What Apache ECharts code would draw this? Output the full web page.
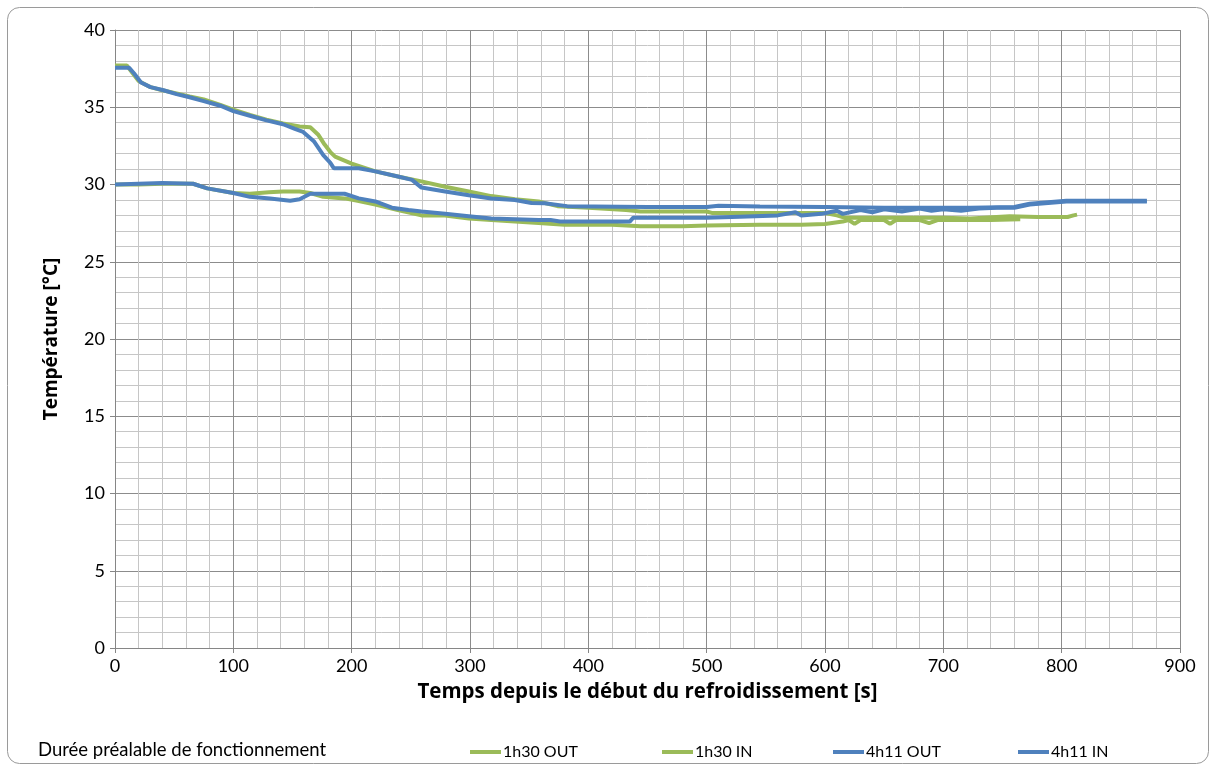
<!DOCTYPE html>
<html><head><meta charset="utf-8">
<script src="https://cdn.jsdelivr.net/npm/echarts@6/dist/echarts.min.js"></script>
<style>html,body{margin:0;padding:0;background:#fff}#c{width:1212px;height:767px}</style>
</head><body><div id="c"></div>
<script>
// ---- data (time [s], temperature [°C]) ----
const xTicks = [0,100,200,300,400,500,600,700,800,900];
const yTicks = [0,5,10,15,20,25,30,35,40];
const seriesNames = ['1h30 OUT','1h30 IN','4h11 OUT','4h11 IN'];
const legendTitle = 'Durée préalable de fonctionnement';

const t_1h30_out = [0,10,14,20,30,40,52,63,75,89,100,114,128,142,156,165,172,177,182,186,200,220,240,259,279,299,318,338,358,374,400,432,444,500,505,545,600,610,617,650,700,723,756,780,805,810,813];
const v_1h30_out = [37.7,37.7,37.3,36.7,36.3,36.1,35.9,35.7,35.5,35.15,34.85,34.5,34.2,33.95,33.75,33.7,33.2,32.6,32.1,31.8,31.35,30.85,30.5,30.2,29.85,29.55,29.25,29.05,28.9,28.6,28.5,28.35,28.25,28.25,28.15,28.15,28.15,28.0,27.85,27.85,27.85,27.8,27.95,27.9,27.9,28.0,28.05];

const t_1h30_in = [0,20,40,66,78,100,114,130,142,156,165,176,194,205,220,239,259,279,299,318,338,358,380,420,444,480,500,545,580,600,615,620,625,630,650,655,660,680,688,695,740,765];
const v_1h30_in = [30.0,30.0,30.05,30.05,29.75,29.45,29.4,29.5,29.55,29.55,29.45,29.2,29.1,28.95,28.7,28.35,28.0,28.0,27.8,27.7,27.6,27.5,27.4,27.4,27.3,27.3,27.35,27.4,27.4,27.45,27.6,27.7,27.45,27.7,27.7,27.45,27.7,27.7,27.5,27.7,27.7,27.75];

const t_4h11_out = [0,12,16,22,30,41,52,63,75,89,100,114,128,142,152,159,168,176,182,185,192,206,220,240,251,259,279,299,318,338,352,363,382,450,500,510,545,600,650,700,723,760,773,804,850,872];
const v_4h11_out = [37.55,37.55,37.2,36.6,36.3,36.1,35.85,35.65,35.4,35.1,34.75,34.45,34.15,33.9,33.6,33.4,32.8,31.9,31.4,31.05,31.05,31.05,30.85,30.5,30.3,29.8,29.55,29.3,29.1,29.0,28.8,28.78,28.6,28.55,28.55,28.62,28.58,28.55,28.5,28.5,28.5,28.55,28.75,28.95,28.95,28.95];

const t_4h11_in = [0,20,40,66,78,100,114,131,148,156,165,179,194,206,220,234,248,259,279,299,318,338,358,368,376,435,438,500,528,560,575,580,597,610,615,630,640,650,665,680,690,700,715,730,745,760,773,804,850,872];
const v_4h11_in = [30.0,30.05,30.1,30.05,29.75,29.45,29.2,29.1,28.95,29.05,29.4,29.4,29.4,29.1,28.9,28.5,28.35,28.25,28.1,27.95,27.8,27.75,27.7,27.7,27.6,27.6,27.85,27.85,27.92,28.0,28.2,28.0,28.1,28.3,28.1,28.35,28.2,28.4,28.25,28.45,28.3,28.4,28.3,28.45,28.5,28.5,28.7,28.9,28.9,28.9];

const GREEN = '#9bbb59', BLUE = '#4f81bd';
const FONT = 'Lato';
const TITLE_FONT = 'Open Sans';
const zip = (t, v) => t.map((x, i) => [x, v[i]]);

const chart = echarts.init(document.getElementById('c'), null, {renderer: 'canvas'});
const mkSeries = (name, t, v, color) => ({
  name, type: 'line', data: zip(t, v), showSymbol: false, symbol: 'none',
  lineStyle: {color, width: 4}, itemStyle: {color}, animation: false
});
const legendLefts = [465, 657, 828, 1013];

chart.setOption({
  backgroundColor: '#fff',
  animation: false,
  textStyle: {fontFamily: FONT},
  grid: {left: 115, right: 32, top: 30, bottom: 119},
  graphic: [{
    type: 'rect', left: 5, top: 5, silent: true,
    shape: {width: 1201, height: 756, r: 12},
    style: {fill: 'none', stroke: '#9a9a9a', lineWidth: 1}
  }],
  title: {text: legendTitle, left: 33, top: 736,
    textStyle: {fontFamily: FONT, fontSize: 18.5, fontWeight: 'normal', color: '#000'}},
  legend: seriesNames.map((n, i) => ({
    data: [n], left: legendLefts[i], top: 739, icon: 'rect',
    itemWidth: 31, itemHeight: 4, itemGap: 0,
    textStyle: {fontFamily: FONT, fontSize: 16, color: '#000', padding: [0, 0, 0, -3]}
  })),
  xAxis: {
    type: 'value', min: xTicks[0], max: xTicks[xTicks.length - 1], interval: 100,
    name: 'Temps depuis le début du refroidissement [s]', nameLocation: 'middle', nameGap: 34,
    nameTextStyle: {fontFamily: TITLE_FONT, fontSize: 20.5, fontWeight: 'bold', color: '#000'},
    axisLine: {show: true, lineStyle: {color: '#868686'}},
    axisTick: {show: true, length: 5, lineStyle: {color: '#868686'}},
    axisLabel: {fontFamily: FONT, fontSize: 18, color: '#000', margin: 9},
    splitLine: {show: true, lineStyle: {color: '#8c8c8c', width: 1}},
    minorTick: {show: false, splitNumber: 5},
    minorSplitLine: {show: true, lineStyle: {color: '#c6c6c6', width: 1}}
  },
  yAxis: {
    type: 'value', min: yTicks[0], max: yTicks[yTicks.length - 1], interval: 5,
    name: 'Température [°C]', nameLocation: 'middle', nameGap: 54, nameRotate: 90,
    nameTextStyle: {fontFamily: TITLE_FONT, fontSize: 19, fontWeight: 'bold', color: '#000'},
    axisLine: {show: true, lineStyle: {color: '#868686'}},
    axisTick: {show: true, length: 5, lineStyle: {color: '#868686'}},
    axisLabel: {fontFamily: FONT, fontSize: 18, color: '#000', margin: 10},
    splitLine: {show: true, lineStyle: {color: '#8c8c8c', width: 1}},
    minorTick: {show: false, splitNumber: 5},
    minorSplitLine: {show: true, lineStyle: {color: '#c6c6c6', width: 1}}
  },
  series: [
    mkSeries(seriesNames[0], t_1h30_out, v_1h30_out, GREEN),
    mkSeries(seriesNames[1], t_1h30_in, v_1h30_in, GREEN),
    mkSeries(seriesNames[2], t_4h11_out, v_4h11_out, BLUE),
    mkSeries(seriesNames[3], t_4h11_in, v_4h11_in, BLUE)
  ]
});
</script></body></html>
